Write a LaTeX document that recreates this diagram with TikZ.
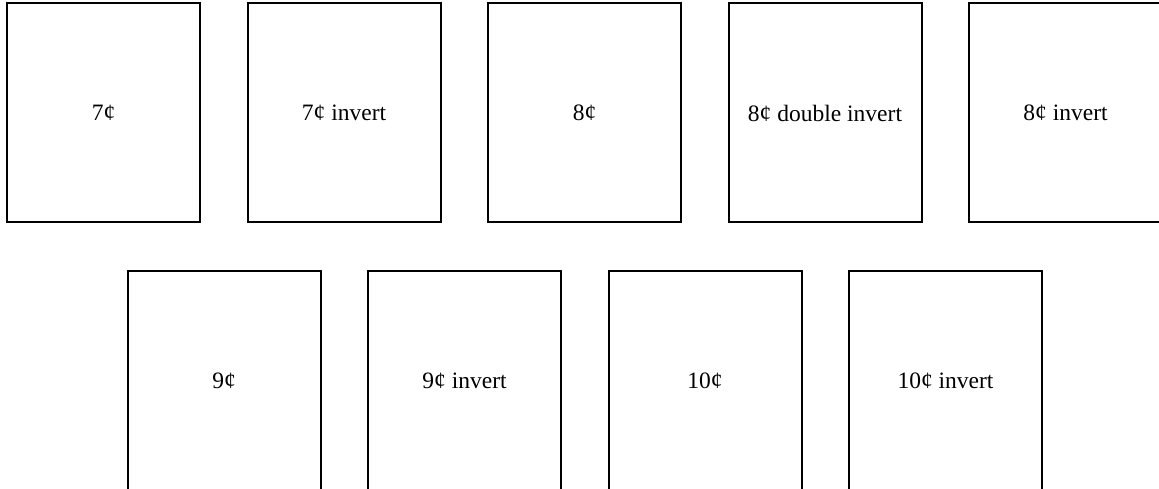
\documentclass[tikz,border=0pt]{standalone}
\usepackage{fontspec}
\setmainfont{Liberation Serif}
\begin{document}
\begin{tikzpicture}[x=1pt,y=-1pt,
  stamp/.style={draw=black,line width=2pt,minimum width=193pt,minimum height=219pt,inner sep=0pt,font=\fontsize{23.5}{28}\selectfont,text=black}]
\useasboundingbox (0,0) rectangle (1159,489);
\clip (0,0) rectangle (1159,489);
\node[stamp] (s7)   at (103.5,113) {7¢};
\node[stamp] (s7i)  at (344,113) {7¢ invert};
\node[stamp] (s8)   at (584.5,113) {8¢};
\node[stamp] (s8d)  at (825,113) {8¢ double invert};
\node[stamp] (s8i)  at (1065.5,113) {8¢ invert};
\node[stamp] (s9)   at (224,380.5) {9¢};
\node[stamp] (s9i)  at (464.5,380.5) {9¢ invert};
\node[stamp] (s10)  at (705,380.5) {10¢};
\node[stamp] (s10i) at (945.5,380.5) {10¢ invert};
\end{tikzpicture}
\end{document}
